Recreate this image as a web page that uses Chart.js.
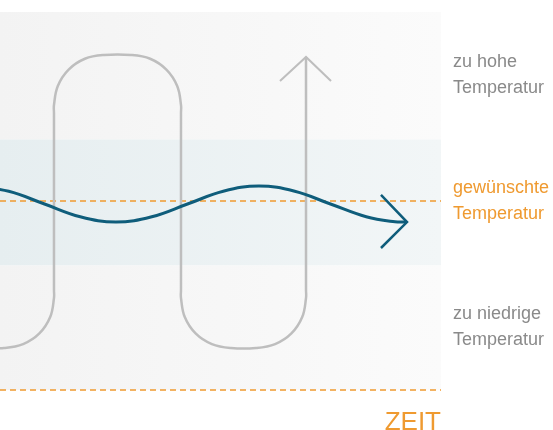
<!DOCTYPE html>
<html lang="de">
<head>
<meta charset="utf-8">
<title>Temperaturregelung</title>
<script src="https://cdn.jsdelivr.net/npm/chart.js@4.4.1/dist/chart.umd.min.js"></script>
<style>
    html, body { margin: 0; padding: 0; background: #fff; }
    #wrap { width: 553px; height: 430px; }
</style>
</head>
<body>
<div id="wrap"><canvas id="regelChart" width="553" height="430"></canvas></div>
<script>
// Temperaturbereiche (y-Achse 0–30), von unten nach oben
const bereichGrenzen = [0, 9.9, 19.9, 30];
const bereichTexte = [['zu niedrige', 'Temperatur'], ['gewünschte', 'Temperatur'], ['zu hohe', 'Temperatur']];
const bereichMitte = [5, 15, 25];
const sollTemp = 15;
const zeitEnde = 100;

// Zwei-Punkt-Regelung (grau): Zeit / Temperatur
const schaltZeit = [-4.54, 0.91, 5.24, 8.93, 11.38, 12.24, 12.24, 12.24, 12.24, 13.11, 15.56, 19.25, 23.58, 29.71, 34.04, 37.73,
    40.18, 41.04, 41.04, 41.04, 41.04, 41.90, 44.35, 48.05, 52.38, 58.05, 62.38, 66.08, 68.53, 69.39, 69.39, 69.39];
const schaltTemp = [3.33, 3.33, 3.64, 4.49, 5.79, 7.30, 7.94, 21.98, 22.62, 24.13, 25.43, 26.29, 26.59, 26.59, 26.29, 25.43,
    24.13, 22.62, 21.98, 7.94, 7.30, 5.79, 4.49, 3.64, 3.33, 3.33, 3.64, 4.49, 5.79, 7.30, 7.94, 26.43];
const schaltPfeilZeit = [63.49, 69.39, 75.06];
const schaltPfeilTemp = [24.52, 26.43, 24.52];

// stetige Regelung (blau)
const regelZeit = [-6.12, 1.98, 10.09, 18.20, 26.30, 34.41, 42.52, 50.62, 58.73, 66.84, 74.94, 83.05, 89.57, 92.29];
const regelTemp = [16.19, 15.77, 14.76, 13.75, 13.33, 13.75, 14.76, 15.77, 16.19, 15.77, 14.76, 13.75, 13.35, 13.33];
const regelPfeilZeit = [86.39, 92.29, 86.39];
const regelPfeilTemp = [15.48, 13.33, 11.27];

const grau = '#bebebe';
const blau = '#0f5d7b';
const orange = '#ef9a30';
const textGrau = '#8a8a8a';
const schrift = "'Liberation Sans', Arial, sans-serif";

const punkte = (xs, ys) => xs.map((x, i) => ({ x: x, y: ys[i] }));

// Hintergrundbänder und Beschriftung
const hintergrund = {
    id: 'hintergrund',
    beforeDatasetsDraw(chart) {
        const { ctx, chartArea, scales: { y } } = chart;
        const farben = [['#f3f3f3', '#fbfbfb'], ['#e6eef0', '#f2f6f7'], ['#f3f3f3', '#fbfbfb']];
        ctx.save();
        for (let i = 0; i < farben.length; i++) {
            const oben = y.getPixelForValue(bereichGrenzen[i + 1]);
            const unten = y.getPixelForValue(bereichGrenzen[i]);
            const grad = ctx.createLinearGradient(chartArea.left, 0, chartArea.right, 0);
            grad.addColorStop(0, farben[i][0]);
            grad.addColorStop(1, farben[i][1]);
            ctx.fillStyle = grad;
            ctx.fillRect(chartArea.left, oben, chartArea.right - chartArea.left, unten - oben);
        }
        ctx.restore();
    },
    afterDraw(chart) {
        const { ctx, chartArea, scales: { y } } = chart;
        ctx.save();
        ctx.font = '18px ' + schrift;
        ctx.textAlign = 'left';
        ctx.textBaseline = 'alphabetic';
        bereichTexte.forEach((zeilen, i) => {
            const mitte = y.getPixelForValue(bereichMitte[i]);
            ctx.fillStyle = i === 1 ? orange : textGrau;
            ctx.fillText(zeilen[0], chartArea.right + 12, mitte - 8);
            ctx.fillText(zeilen[1], chartArea.right + 12, mitte + 18);
        });
        ctx.fillStyle = orange;
        ctx.font = '26px ' + schrift;
        ctx.textAlign = 'right';
        ctx.fillText('ZEIT', chartArea.right, chartArea.bottom + 40);
        ctx.restore();
    }
};

const ctx = document.getElementById('regelChart').getContext('2d');

new Chart(ctx, {
    type: 'line',
    data: {
        datasets: [
            {
                label: 'stetige Regelung',
                data: punkte(regelZeit, regelTemp),
                borderColor: blau,
                borderWidth: 3,
                tension: 0.4,
                capBezierPoints: false,
                order: 0
            },
            {
                label: 'Pfeil blau',
                data: punkte(regelPfeilZeit, regelPfeilTemp),
                borderColor: blau,
                borderWidth: 2.5,
                tension: 0,
                order: 0
            },
            {
                label: 'Zwei-Punkt-Regelung',
                data: punkte(schaltZeit, schaltTemp),
                borderColor: grau,
                borderWidth: 2.5,
                tension: 0.4,
                capBezierPoints: false,
                order: 1
            },
            {
                label: 'Pfeil grau',
                data: punkte(schaltPfeilZeit, schaltPfeilTemp),
                borderColor: grau,
                borderWidth: 2,
                tension: 0,
                order: 1
            },
            {
                label: 'gewünschte Temperatur',
                data: punkte([0, zeitEnde], [sollTemp, sollTemp]),
                borderColor: orange,
                borderWidth: 1.4,
                borderDash: [6, 4],
                clip: false,
                order: 2
            },
            {
                label: 'Zeitachse',
                data: punkte([0, zeitEnde], [0, 0]),
                borderColor: orange,
                borderWidth: 1.4,
                borderDash: [6, 4],
                clip: false,
                order: 2
            }
        ]
    },
    options: {
        responsive: false,
        animation: false,
        layout: { padding: { left: 0, right: 112, top: 12, bottom: 40 } },
        elements: { point: { radius: 0, hoverRadius: 0 } },
        plugins: {
            legend: { display: false },
            tooltip: { enabled: false }
        },
        scales: {
            x: { type: 'linear', min: 0, max: zeitEnde, display: false },
            y: { type: 'linear', min: 0, max: 30, display: false }
        }
    },
    plugins: [hintergrund]
});
</script>
</body>
</html>
